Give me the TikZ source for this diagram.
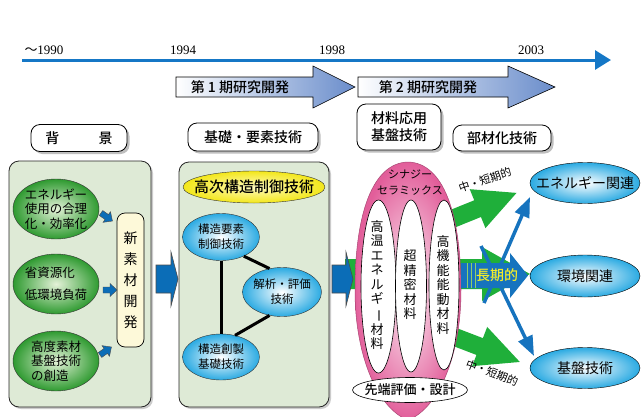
\documentclass[tikz,border=0pt]{standalone}
\usepackage{fontspec}
\setmainfont{Liberation Serif}
\newfontfamily\jp{Noto Sans CJK JP}[BoldFont={Noto Sans CJK JP Medium}]
\usetikzlibrary{shapes.geometric,shadows,arrows.meta}
\definecolor{panelgreen}{HTML}{DEEAD6}
\definecolor{tlblue}{HTML}{1577C6}
\definecolor{arrblue}{HTML}{0B6DB7}
\definecolor{bandblue}{HTML}{1673BE}
\definecolor{grnarr}{HTML}{1FAF3A}
\definecolor{ellgreen}{HTML}{2E9A30}
\definecolor{ellgreenin}{HTML}{E4F2D8}
\definecolor{ellblue}{HTML}{2AAAE2}
\definecolor{pinkedge}{HTML}{E25E9A}
\definecolor{pinkin}{HTML}{FDF0F6}
\definecolor{yelfill}{HTML}{F3E71A}
\definecolor{yelin}{HTML}{FFFBC0}
\definecolor{boxyel}{HTML}{FDF9D9}
\definecolor{txtyel}{HTML}{F2EC2A}
\definecolor{phblue}{HTML}{6A8DCB}
\definecolor{stripe}{HTML}{8FCF6A}
\tikzset{
  hdr/.style={draw=black, fill=white, rounded corners=9pt, line width=0.8pt,
    drop shadow={shadow xshift=2.5pt, shadow yshift=-2.5pt, fill=black!50},
    font=\jp\bfseries\fontsize{14}{17}\selectfont, inner sep=0pt, align=center},
  panelbox/.style={draw=black!85, fill=panelgreen, rounded corners=10pt, line width=0.8pt,
    drop shadow={shadow xshift=2pt, shadow yshift=-2pt, fill=black!40}, inner sep=0pt},
  gell/.style={ellipse, draw=black!80, inner color=ellgreenin, outer color=ellgreen,
    minimum width=86pt, minimum height=60pt, inner sep=0pt},
  gtxt/.style={align=left, font=\jp\fontsize{12.5}{14.5}\selectfont},
  bell/.style={ellipse, draw=black!80, inner color=white, outer color=ellblue, inner sep=0pt},
  btxt/.style={align=center, font=\jp\fontsize{11.5}{15}\selectfont},
  rell/.style={ellipse, draw=black, inner color=white, outer color=ellblue,
    minimum width=110pt, minimum height=41pt, inner sep=0pt},
  rtxt/.style={font=\jp\fontsize{14}{16}\selectfont},
  well/.style={ellipse, draw=black, fill=white, inner sep=0pt, line width=0.6pt},
  vtxt/.style={align=center, font=\jp\fontsize{13}{14.5}\selectfont},
  bigarr/.style={draw=black!70, fill=arrblue, line width=0.6pt},
  phase/.style={font=\jp\bfseries\fontsize{14}{16}\selectfont},
  year/.style={font=\fontsize{13}{15}\selectfont},
  grn/.style={fill=grnarr},
  shortlbl/.style={font=\jp\fontsize{11}{12}\selectfont, inner sep=0pt},
  pics/fatarr/.style n args={4}{code={
    \path[pic actions] (0,-#2) -- (#4,-#2) -- (#4,-#3) -- (#1,0) -- (#4,#3) -- (#4,#2) -- (0,#2) -- cycle;}}
}
\begin{document}
\begin{tikzpicture}[x=1pt,y=-1pt]
\useasboundingbox (0,0) rectangle (641,416);
\clip (0,0) rectangle (641,416);
\fill[white] (0,0) rectangle (641,416);

% timeline
\coordinate (tl0) at (22,60);
\coordinate (tl1) at (611,60);
\draw[tlblue, line width=3pt, -{Triangle[length=16pt,width=19pt]}] (tl0) -- (tl1);
\node[year] (y1) at (44,50) {{\jp 〜}1990};
\node[year] (y2) at (183,50) {1994};
\node[year] (y3) at (332,50) {1998};
\node[year] (y4) at (531,50) {2003};

% phase arrows
\shade[left color=white, right color=phblue, draw=black, line width=0.6pt]
  (176,77) -- (313,77) -- (313,66) -- (355,87) -- (313,108) -- (313,97) -- (176,97) -- cycle;
\node[phase] (ph1) at (240,87) {第 1 期研究開発};
\shade[left color=white, right color=phblue, draw=black, line width=0.6pt]
  (358,77) -- (508,77) -- (508,66) -- (555,87) -- (508,108) -- (508,97) -- (358,97) -- cycle;
\node[phase] (ph2) at (428,87) {第 2 期研究開発};

% headers
\node[hdr, minimum width=96pt, minimum height=27pt] (hb) at (79,138) {背\hspace{2.8em}景};
\node[hdr, minimum width=130pt, minimum height=28pt] (hk) at (253,137) {基礎・要素技術};
\node[hdr, minimum width=84pt, minimum height=46pt] (hz) at (399,127) {材料応用\\基盤技術};
\node[hdr, minimum width=98pt, minimum height=26pt] (hbu) at (502,138) {部材化技術};

% panels
\node[panelbox, minimum width=142pt, minimum height=246pt] (lp) at (80,284) {};
\node[panelbox, minimum width=150pt, minimum height=245pt] (mp) at (254,284.5) {};

% left panel content
\node[gell] (g1) at (56,209) {};
\node[gtxt] (g1t) at (g1) {エネルギー\\使用の合理\\化・効率化};
\node[gell] (g2) at (56,284) {};
\node[gtxt] (g2t) at (g2) {省資源化\\[8pt]低環境負荷};
\node[gell] (g3) at (56,361) {};
\node[gtxt] (g3t) at (g3) {高度素材\\基盤技術\\の創造};

\node[draw=black, fill=boxyel, rounded corners=8pt, line width=0.7pt,
  minimum width=27pt, minimum height=134pt, inner sep=0pt] (nb) at (130.5,280) {};
\node[align=center, font=\jp\fontsize{14}{21}\selectfont] (nbt) at (nb) {新\\素\\材\\開\\発};

\pic[draw=black!70, fill=arrblue, line width=0.4pt, rotate=-35] at (101,213) {fatarr={14}{3}{6.5}{7}};
\pic[draw=black!70, fill=arrblue, line width=0.4pt] at (103,290) {fatarr={14}{3}{6.5}{7}};
\pic[draw=black!70, fill=arrblue, line width=0.4pt, rotate=35] at (100,355) {fatarr={14}{3}{6.5}{7}};

% big arrow 1
\draw[bigarr] (156,265) -- (171,265) -- (171,252) -- (178,279) -- (171,306) -- (171,293) -- (156,293) -- cycle;

% middle panel content
\node[ellipse, draw=black!80, inner color=yelin, outer color=yelfill, minimum width=142pt,
  minimum height=32pt, inner sep=0pt] (ye) at (254,187) {};
\node[font=\jp\bfseries\fontsize{15}{17}\selectfont] (yet) at (ye) {高次構造制御技術};
\node[bell, minimum width=77pt, minimum height=47pt] (b1) at (221,237) {};
\node[bell, minimum width=79pt, minimum height=49pt] (b2) at (282,292) {};
\node[bell, minimum width=77pt, minimum height=46pt] (b3) at (221,357) {};
\draw[line width=3pt] (b1.-40) -- (b2.118);
\draw[line width=3pt] (b2.-118) -- (b3.57);
\draw[line width=3pt] (b1.south) -- (b3.north);
\node[btxt] (b1t) at (b1) {構造要素\\制御技術};
\node[btxt] (b2t) at (b2) {解析・評価\\技術};
\node[btxt] (b3t) at (b3) {構造創製\\基礎技術};

% green arrows
\pic[grn] at (345,274) {fatarr={185}{15}{27}{137}};
\pic[grn, rotate=22] at (447,221) {fatarr={75}{9}{21}{33}};
\pic[grn, rotate=-21] at (447,334) {fatarr={78}{9}{21}{35}};

% big arrow 2
\draw[bigarr] (332,265) -- (346,265) -- (346,252) -- (353,279) -- (346,306) -- (346,293) -- (332,293) -- cycle;

% pink synergy shape
\shade[draw=pinkedge!75!black, line width=0.5pt, inner color=pinkin, outer color=pinkedge]
  (408,162) .. controls (372,163) and (355,215) .. (355,290)
  .. controls (355,360) and (380,410) .. (408,420)
  .. controls (436,410) and (461,360) .. (461,290)
  .. controls (461,215) and (444,163) .. (408,162) -- cycle;
\node[align=center, font=\jp\fontsize{11}{16}\selectfont] (syn) at (410,183) {シナジー\\セラミックス};
\node[well, minimum width=35pt, minimum height=173pt] (w1) at (378.5,286.5) {};
\node[well, minimum width=31pt, minimum height=172pt] (w2) at (411,286) {};
\node[well, minimum width=30pt, minimum height=170pt] (w3) at (444,285) {};
\node[vtxt] (w1t) at (377,285) {高\\温\\エ\\ネ\\ル\\ギ\\\rotatebox[origin=c]{-90}{ー}\\材\\料};
\node[vtxt] (w2t) at (410,285) {超\\精\\密\\材\\料};
\node[vtxt] (w3t) at (443,285) {高\\機\\能\\能\\動\\材\\料};
\node[well, minimum width=115pt, minimum height=25pt] (se) at (410,390) {};
\node[font=\jp\bfseries\fontsize{13}{15}\selectfont] (set) at (se) {先端評価・設計};

% long-term band
\fill[bandblue] (461,263) -- (510,263) -- (510,253) -- (528,275.5) -- (510,298) -- (510,288) -- (461,288) -- cycle;
\draw[stripe, line width=1pt] (467,263) -- (467,288);
\draw[stripe, line width=1pt] (471,263) -- (471,288);
\draw[stripe, line width=1pt] (475,263) -- (475,288);
\coordinate (a0) at (484,303);
\coordinate (a1) at (530,197);
\coordinate (c0) at (481,246);
\coordinate (c1) at (534,356);
\draw[bandblue, line width=3.5pt, -{Triangle[length=20pt,width=15pt]}] (a0) -- (a1);
\draw[bandblue, line width=3.5pt, -{Triangle[length=20pt,width=15pt]}] (c0) -- (c1);
\node[font=\jp\bfseries\fontsize{14}{16}\selectfont, text=txtyel] (lt) at (497,275) {長期的};

% right ellipses
\node[rell] (e1) at (585,183) {};
\node[rtxt] (e1t) at (e1) {エネルギー関連};
\node[rell, minimum height=42pt] (e2) at (585,276) {};
\node[rtxt] (e2t) at (e2) {環境関連};
\node[rell] (e3) at (585,368) {};
\node[rtxt] (e3t) at (e3) {基盤技術};

% labels
\node[shortlbl, rotate=19] (s1) at (485,180) {中・短期的};
\node[shortlbl, rotate=-21] (s2) at (492,373) {中・短期的};
\end{tikzpicture}
\end{document}
